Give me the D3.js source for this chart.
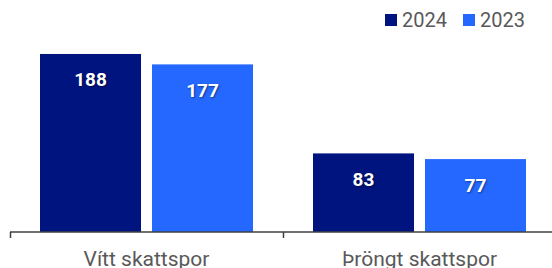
<!DOCTYPE html>
<html>
<head>
<meta charset="utf-8">
<script src="https://cdn.jsdelivr.net/npm/d3@7"></script>
<style>
	body{margin:0;padding:0;background:#fff;}
	svg{display:block;}
	text{font-family:Roboto,"Liberation Sans",Arial,sans-serif;}
	text.valLabel{font-weight:bold;fill:#fff;text-shadow:1px 1px 2px rgba(0,0,0,0.45);}
</style>
</head>
<body>
<div id="chart"></div>
<script>
var categories=["Vítt skattspor","Þröngt skattspor"];
var seriesNames=["2024","2023"];
var values2024=[188,83];
var values2023=[177,77];
var seriesColors=["#001480","#2468ff"];

var pWidth=552, pHeight=268;
var baseY=232;

var svg=d3.select("#chart").append("svg")
	.attr("width",pWidth).attr("height",pHeight);

var xScale=d3.scaleBand()
	.domain(categories)
	.range([10,556]);
var xInner=d3.scaleBand()
	.domain(seriesNames)
	.range([30,243])
	.paddingInner(0.098);
var yScale=d3.scaleLinear()
	.domain([0,245])
	.range([baseY,0]);
var colorScale=d3.scaleOrdinal().domain(seriesNames).range(seriesColors);

var data=categories.map(function(c,i){
	return {cat:c,vals:[
		{s:seriesNames[0],v:values2024[i]},
		{s:seriesNames[1],v:values2023[i]}
	]};
});

var groups=svg.selectAll("g.grp").data(data).enter().append("g")
	.attr("class","grp")
	.attr("transform",function(d){return "translate("+xScale(d.cat)+",0)";});

groups.selectAll("rect").data(function(d){return d.vals;}).enter().append("rect")
	.attr("x",function(d){return xInner(d.s);})
	.attr("y",function(d){return yScale(d.v);})
	.attr("width",xInner.bandwidth())
	.attr("height",function(d){return baseY-yScale(d.v);})
	.attr("fill",function(d){return colorScale(d.s);});

groups.selectAll("text.valLabel").data(function(d){return d.vals;}).enter().append("text")
	.attr("class","valLabel")
	.attr("x",function(d){return xInner(d.s)+xInner.bandwidth()/2;})
	.attr("y",function(d){return yScale(d.v)+32.5;})
	.attr("text-anchor","middle")
	.attr("font-size",19)
	.text(function(d){return d.v;});

// axis
var xAxis=d3.axisBottom(xScale).tickSize(0).tickFormat("");
var axisG=svg.append("g").attr("transform","translate(0,"+baseY+")").call(xAxis);
axisG.select(".domain").remove();
axisG.append("line").attr("x1",10).attr("x2",pWidth).attr("y1",0).attr("y2",0)
	.attr("stroke","#404040").attr("stroke-width",1.5);
axisG.selectAll("line.sep").data(categories).enter().append("line")
	.attr("class","sep")
	.attr("x1",function(d){return xScale(d)+0.5;}).attr("x2",function(d){return xScale(d)+0.5;})
	.attr("y1",0).attr("y2",6)
	.attr("stroke","#404040").attr("stroke-width",1.5);

svg.selectAll("text.catLabel").data(categories).enter().append("text")
	.attr("class","catLabel")
	.attr("x",function(d){return xScale(d)+xScale.bandwidth()/2;})
	.attr("y",266)
	.attr("text-anchor","middle")
	.attr("font-size",21)
	.attr("fill","#595959")
	.text(function(d){return d;});

// legend
var legX=[385,463];
var leg=svg.selectAll("g.leg").data(seriesNames).enter().append("g")
	.attr("class","leg")
	.attr("transform",function(d,i){return "translate("+legX[i]+",14)";});
leg.append("rect").attr("width",12).attr("height",12)
	.attr("fill",function(d){return colorScale(d);});
leg.append("text").attr("x",17).attr("y",12.7)
	.attr("font-size",20).attr("fill","#595959")
	.text(function(d){return d;});
</script>
</body>
</html>
